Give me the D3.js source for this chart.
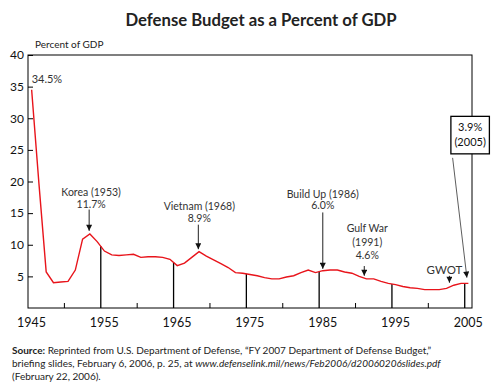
<!DOCTYPE html>
<html>
<head>
<meta charset="utf-8">
<script src="https://cdn.jsdelivr.net/npm/d3@7"></script>
<style>
  body { margin: 0; background: #fff; }
  svg { display: block; }
  text { font-family: Lato, "Open Sans", sans-serif; }
</style>
</head>
<body>
<svg id="chart" width="491" height="391"></svg>
<script>
// ---- data ----
const years = d3.range(1945, 2006);
const values = [34.5, 19.7, 5.7, 4.0, 4.1, 4.2, 6.0, 10.9, 11.7, 10.5,
  9.0, 8.4, 8.3, 8.4, 8.5, 8.0, 8.1, 8.1, 8.0, 7.7,
  6.7, 7.1, 8.0, 8.9, 8.2, 7.6, 7.0, 6.4, 5.6, 5.5,
  5.3, 5.1, 4.8, 4.6, 4.6, 4.9, 5.1, 5.6, 6.0, 5.6,
  5.9, 6.0, 6.0, 5.7, 5.5, 5.0, 4.6, 4.6, 4.2, 3.9,
  3.7, 3.4, 3.2, 3.1, 2.9, 2.9, 2.9, 3.1, 3.6, 3.9,
  3.9];
const yTicks = [5, 10, 15, 20, 25, 30, 35, 40];
const xMajor = [1945, 1955, 1965, 1975, 1985, 1995, 2005];
const xMinor = [1950, 1960, 1970, 1980, 1990, 2000];
const dropYears = [1955, 1965, 1975, 1985, 1995, 2005];
// annotations: label lines, arrow x (year units), arrow tip value, first-line baseline value
const annLabels = [["Korea (1953)", "11.7%"], ["Vietnam (1968)", "8.9%"], ["Build Up (1986)", "6.0%"], ["Gulf War", "(1991)", "4.6%"], ["GWOT"]];
const annX = [1953.4, 1968.4, 1985.5, 1991.2, 2002.9];
const annTip = [12.2, 9.3, 6.2, 5.1, 4.0];
const annTextTop = [17.7, 15.5, 17.4, 11.95, 5.4];
const annTextDx = [2, 1, 0, 3, -5];
const annLineGap = [11.5, 11.7, 11.5, 13.3, 11];
const annArrowGap = [2, 3, 3, 7, 2];
const boxLabels = ["3.9%", "(2005)"];
const title = "Defense Budget as a Percent of GDP";
const yTitle = "Percent of GDP";

const svg = d3.select("#chart");
const x = d3.scaleLinear().domain([1945, 2006]).range([28, 472]);
const y = d3.scaleLinear().domain([0, 40]).range([308, 55]);
const red = "#e8141b";
const txt = "#333";

// title
svg.append("text").attr("x", 261).attr("y", 26).attr("text-anchor", "middle")
  .attr("font-size", 16.7).attr("font-weight", 700).attr("fill", "#222").text(title);
svg.append("text").attr("x", 35).attr("y", 48).attr("font-size", 10).attr("fill", "#222").text(yTitle);

// frame
svg.append("rect").attr("x", x(1945)).attr("y", y(40)).attr("width", x(2006) - x(1945))
  .attr("height", y(0) - y(40)).attr("fill", "none").attr("stroke", "#000").attr("stroke-width", 1);

// y axis (inward ticks)
const yAxis = d3.axisRight(y).tickValues(yTicks).tickSize(5).tickFormat(d3.format("d"));
const gy = svg.append("g").attr("transform", `translate(${x(1945)},0)`).call(yAxis);
gy.select(".domain").remove();
gy.selectAll("line").attr("stroke", "#000");
gy.selectAll("text").attr("x", -4).attr("text-anchor", "end").attr("font-size", 12)
  .attr("font-family", "Lato").attr("fill", "#111");

// x axis
const xAxis = d3.axisBottom(x).tickValues(xMajor).tickSize(0).tickFormat(d3.format("d"));
const gx = svg.append("g").attr("transform", `translate(0,${y(0)})`).call(xAxis);
gx.select(".domain").remove();
gx.selectAll("text").attr("dx", 3).attr("y", 10).attr("font-size", 12.5)
  .attr("font-family", "Lato").attr("fill", "#111");
// minor inward ticks
svg.append("g").selectAll("line").data(xMinor).join("line")
  .attr("x1", d => x(d)).attr("x2", d => x(d)).attr("y1", y(0)).attr("y2", y(0) - 5)
  .attr("stroke", "#000");

// data points at mid-year
const pts = years.map((yr, i) => ({ t: yr + 0.5, v: values[i] }));
const interp = t => {
  for (let i = 0; i < pts.length - 1; i++) {
    if (t >= pts[i].t && t <= pts[i + 1].t) {
      const f = (t - pts[i].t) / (pts[i + 1].t - pts[i].t);
      return pts[i].v + f * (pts[i + 1].v - pts[i].v);
    }
  }
  return pts[pts.length - 1].v;
};

// drop lines
svg.append("g").selectAll("line").data(dropYears).join("line")
  .attr("x1", d => x(d)).attr("x2", d => x(d)).attr("y1", y(0)).attr("y2", d => y(interp(d)))
  .attr("stroke", "#000").attr("stroke-width", 1.3);

// line
svg.append("path").datum(pts)
  .attr("d", d3.line().x(d => x(d.t)).y(d => y(d.v)))
  .attr("fill", "none").attr("stroke", red).attr("stroke-width", 1.4);

// arrow marker
const defs = svg.append("defs");
defs.append("marker").attr("id", "ah").attr("viewBox", "0 0 10 10").attr("refX", 10).attr("refY", 5)
  .attr("markerWidth", 7).attr("markerHeight", 6).attr("markerUnits", "userSpaceOnUse").attr("orient", "auto")
  .append("path").attr("d", "M0,0L10,5L0,10Z").attr("fill", "#111");

// 34.5% label
svg.append("text").attr("x", x(1945.5)).attr("y", y(values[0]) - 7).attr("font-size", 11)
  .attr("fill", txt).text(values[0] + "%");

// annotations
annLabels.forEach((lines, i) => {
  const cx = x(annX[i]);
  const top = y(annTextTop[i]);
  const g = svg.append("g");
  lines.forEach((s, j) => {
    g.append("text").attr("x", cx + annTextDx[i]).attr("y", top + j * annLineGap[i]).attr("text-anchor", "middle")
      .attr("font-size", i === 4 ? 11.5 : 10.5).attr("fill", txt).text(s);
  });
  const y1 = top + (lines.length - 1) * annLineGap[i] + annArrowGap[i];
  svg.append("line").attr("x1", cx).attr("x2", cx).attr("y1", y1).attr("y2", y(annTip[i]))
    .attr("stroke", "#222").attr("stroke-width", 1).attr("marker-end", "url(#ah)");
});

// 2005 box
const bx = x(2003.1), by = y(30.3), bw = 38.5, bh = 37.5;
svg.append("rect").attr("x", bx).attr("y", by).attr("width", bw).attr("height", bh)
  .attr("fill", "#fff").attr("stroke", "#000").attr("stroke-width", 1.3);
boxLabels.forEach((s, j) => {
  svg.append("text").attr("x", bx + bw / 2).attr("y", by + 14.5 + j * 15.5).attr("text-anchor", "middle")
    .attr("font-size", 11).attr("fill", "#111").text(s);
});
svg.append("line").attr("x1", x(2003.2) + 1).attr("y1", by + bh + 4).attr("x2", x(2005.3)).attr("y2", y(4.8))
  .attr("stroke", "#333").attr("stroke-width", 0.8).attr("marker-end", "url(#ah)");

// source note
const src = svg.append("g").attr("font-size", 10).attr("fill", "#222");
const l1 = src.append("text").attr("x", 12).attr("y", 354);
l1.append("tspan").attr("font-weight", 700).text("Source:");
l1.append("tspan").text(" Reprinted from U.S. Department of Defense, \u201CFY 2007 Department of Defense Budget,\u201D");
const l2 = src.append("text").attr("x", 12).attr("y", 367);
l2.append("tspan").text("briefing slides, February 6, 2006, p. 25, at ");
l2.append("tspan").attr("font-style", "italic").text("www.defenselink.mil/news/Feb2006/d20060206slides.pdf");
src.append("text").attr("x", 12).attr("y", 380).text("(February 22, 2006).");
</script>
</body>
</html>
